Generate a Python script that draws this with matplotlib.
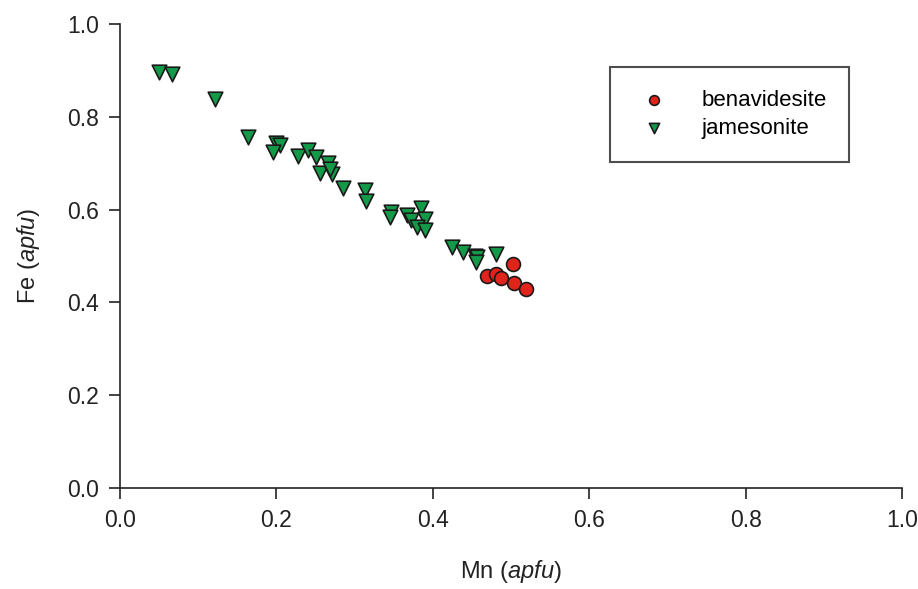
import matplotlib.pyplot as plt

plt.rcParams['font.family'] = ['Liberation Sans', 'DejaVu Sans']
plt.rcParams['mathtext.fontset'] = 'custom'
plt.rcParams['mathtext.rm'] = 'Liberation Sans'
plt.rcParams['mathtext.it'] = 'Liberation Sans:italic'

# benavidesite
ben_mn = [0.503, 0.469, 0.481, 0.487, 0.504, 0.519]
ben_fe = [0.483, 0.457, 0.461, 0.453, 0.442, 0.429]

# jamesonite
jam_mn = [0.050, 0.066, 0.121, 0.164, 0.200, 0.205, 0.196, 0.227, 0.241, 0.250,
          0.266, 0.256, 0.271, 0.268, 0.285, 0.313, 0.315, 0.346, 0.345, 0.367,
          0.372, 0.385, 0.390, 0.380, 0.390, 0.425, 0.439, 0.454, 0.457, 0.455,
          0.481]
jam_fe = [0.897, 0.892, 0.838, 0.757, 0.743, 0.739, 0.724, 0.715, 0.728, 0.713,
          0.700, 0.680, 0.676, 0.688, 0.646, 0.642, 0.619, 0.595, 0.584, 0.588,
          0.578, 0.603, 0.580, 0.563, 0.556, 0.519, 0.509, 0.500, 0.498, 0.487,
          0.504]

fig = plt.figure(figsize=(9.18, 5.89), dpi=100)
ax = fig.add_axes([0.1307, 0.1715, 0.852, 0.7875])

ax.scatter(jam_mn, jam_fe, marker='v', s=110, c='#139a48', edgecolors='#1a1a1a',
           linewidths=1.2, label='jamesonite', zorder=3)
ax.scatter(ben_mn, ben_fe, marker='o', s=100, c='#e0241c', edgecolors='#1a1a1a',
           linewidths=1.2, label='benavidesite', zorder=4)

ax.set_xlim(0, 1.0)
ax.set_ylim(0, 1.0)
ax.set_xticks([0, 0.2, 0.4, 0.6, 0.8, 1.0])
ax.set_yticks([0, 0.2, 0.4, 0.6, 0.8, 1.0])
ax.set_xticklabels(['0.0', '0.2', '0.4', '0.6', '0.8', '1.0'])
ax.set_yticklabels(['0.0', '0.2', '0.4', '0.6', '0.8', '1.0'])
ax.tick_params(direction='out', length=8, width=1.2, labelsize=16.5,
               colors='#222222', pad=7)
ax.spines['top'].set_visible(False)
ax.spines['right'].set_visible(False)
for s in ['left', 'bottom']:
    ax.spines[s].set_linewidth(1.2)
    ax.spines[s].set_color('#222222')

ax.set_xlabel('Mn ($\\it{apfu}$)', fontsize=17, labelpad=19, color='#222222')
ax.set_ylabel('Fe ($\\it{apfu}$)', fontsize=17, labelpad=18, color='#222222')

handles, labels = ax.get_legend_handles_labels()
leg = ax.legend(handles[::-1], labels[::-1], loc='upper left',
                bbox_to_anchor=(0.627, 0.907), fontsize=16, markerscale=0.7,
                frameon=True, fancybox=False, edgecolor='#222222',
                borderpad=1.0, handletextpad=1.2, labelspacing=0.35,
                borderaxespad=0, handlelength=1.9)
leg.get_frame().set_linewidth(1.5)

fig.savefig('out.png', dpi=100)
